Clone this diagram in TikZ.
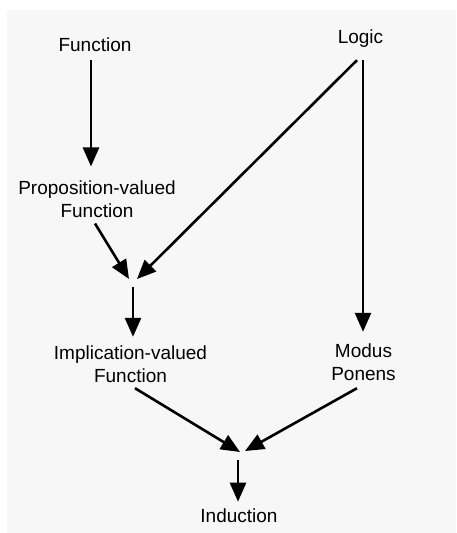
\documentclass[tikz,border=0pt]{standalone}
\usepackage{fontspec}
\setmainfont{Liberation Sans}
\usetikzlibrary{arrows.meta}
\definecolor{panel}{RGB}{247,247,247}
\begin{document}
\begin{tikzpicture}[x=1pt,y=-1pt,
  lbl/.style={font=\fontsize{19}{23}\selectfont, align=center, inner sep=3.33pt},
  arr/.style={line width=2.6pt, -{Triangle[width=16pt,length=19pt]}}]
  \useasboundingbox (0,0) rectangle (456,533);
  \fill[panel] (7,10) rectangle (456,533);

  % concepts
  \node[lbl, anchor=base] (fn)     at (95,51)    {Function};
  \node[lbl, anchor=base] (logic)  at (360.5,43) {Logic};
  \node[lbl]              (prop)   at (97,199.5) {Proposition-valued\\Function};
  \node[lbl]              (impl)   at (130.5,364.5) {Implication-valued\\Function};
  \node[lbl]              (modus)  at (363.5,362.5) {Modus\\Ponens};
  \node[lbl, anchor=base] (ind)    at (239,522)  {Induction};

  % meeting points of converging arrows
  \coordinate (j1l) at (129,279);
  \coordinate (j1r) at (137,279);
  \coordinate (j1o) at (133,287);
  \coordinate (j2l) at (240,452);
  \coordinate (j2r) at (245,451);
  \coordinate (j2o) at (238,460);

  % dependencies
  \draw[arr] ([shift={(-4,5.7)}]fn.south) -- ([shift={(-6,-11)}]prop.north);
  \draw[arr] ([shift={(-3.5,9.7)}]logic.south) -- (j1r);
  \draw[arr] ([shift={(-2,2)}]prop.south) -- (j1l);
  \draw[arr, -{Triangle[width=16pt,length=19pt]}] (j1o) -- ([shift={(2.5,-5.7)}]impl.north);
  \draw[arr] ([shift={(2.5,9.7)}]logic.south) -- ([shift={(-0.5,-8.7)}]modus.north);
  \draw[arr] ([shift={(4.5,1.7)}]impl.south) -- (j2l);
  \draw[arr] ([shift={(-6.5,3.7)}]modus.south) -- (j2r);
  \draw[arr] (j2o) -- ([shift={(-1,-3)}]ind.north);
\end{tikzpicture}
\end{document}
